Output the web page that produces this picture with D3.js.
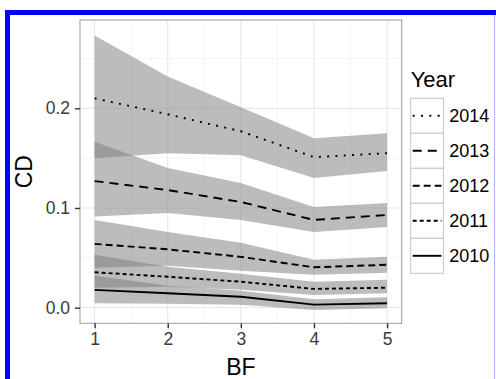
<!DOCTYPE html>
<html>
<head>
<meta charset="utf-8">
<script src="https://cdn.jsdelivr.net/npm/d3@7"></script>
<style>
  html, body { margin: 0; padding: 0; background: #fff; }
  svg { display: block; }
  text { font-family: "Liberation Sans", Arial, Helvetica, sans-serif; }
</style>
</head>
<body>
<svg id="chart" width="496" height="379"></svg>
<script>
// Break-frequency levels on the x axis
const bf = [1, 2, 3, 4, 5];

// Years, top-to-bottom in the legend
const years = ["2014", "2013", "2012", "2011", "2010"];

// Mean CD per BF level, with lower / upper confidence bounds
const mean2014 = [0.210, 0.194, 0.177, 0.151, 0.155];
const lo2014   = [0.150, 0.155, 0.153, 0.130, 0.137];
const hi2014   = [0.273, 0.232, 0.201, 0.170, 0.175];

const mean2013 = [0.127, 0.118, 0.106, 0.088, 0.093];
const lo2013   = [0.0915, 0.095, 0.088, 0.076, 0.081];
const hi2013   = [0.1665, 0.140, 0.125, 0.101, 0.105];

const mean2012 = [0.064, 0.0585, 0.051, 0.0405, 0.043];
const lo2012   = [0.040, 0.042, 0.037, 0.033, 0.035];
const hi2012   = [0.088, 0.076, 0.065, 0.048, 0.051];

const mean2011 = [0.0355, 0.031, 0.026, 0.0188, 0.020];
const lo2011   = [0.020, 0.021, 0.018, 0.0127, 0.0144];
const hi2011   = [0.053, 0.041, 0.034, 0.026, 0.028];

const mean2010 = [0.0178, 0.0144, 0.0110, 0.0030, 0.0044];
const lo2010   = [0.0044, 0.0040, 0.0030, -0.0023, -0.0006];
const hi2010   = [0.032, 0.022, 0.017, 0.0084, 0.0104];

// Tick values
const xTicks = [1, 2, 3, 4, 5];
const yTicks = [0.0, 0.1, 0.2];
const xMinor = [1.5, 2.5, 3.5, 4.5];
const yMinor = [0.05, 0.15, 0.25];

const seriesByYear = {
  "2014": { mean: mean2014, lo: lo2014, hi: hi2014 },
  "2013": { mean: mean2013, lo: lo2013, hi: hi2013 },
  "2012": { mean: mean2012, lo: lo2012, hi: hi2012 },
  "2011": { mean: mean2011, lo: lo2011, hi: hi2011 },
  "2010": { mean: mean2010, lo: lo2010, hi: hi2010 }
};

// Line type for each year
const dashes = {
  "2014": "2,6.3",
  "2013": "9,6",
  "2012": "7,4",
  "2011": "4,3",
  "2010": null
};

const svg = d3.select("#chart");

// Outer frame
svg.append("rect").attr("x", 5).attr("y", 10).attr("width", 491).attr("height", 5).attr("fill", "#0000ff");
svg.append("rect").attr("x", 5).attr("y", 10).attr("width", 5).attr("height", 369).attr("fill", "#0000ff");
svg.append("rect").attr("x", 494).attr("y", 15).attr("width", 1).attr("height", 364).attr("fill", "#b4b4f4");

// Panel geometry
const panel = { left: 80, right: 401.7, top: 20, bottom: 323.3 };

const x = d3.scaleLinear().domain([0.8, 5.2]).range([panel.left, panel.right]);
const y = d3.scaleLinear().domain([-0.0157, 0.2886]).range([panel.bottom, panel.top]);

const g = svg.append("g");

// Panel background
g.append("rect")
  .attr("x", panel.left).attr("y", panel.top)
  .attr("width", panel.right - panel.left).attr("height", panel.bottom - panel.top)
  .attr("fill", "#ffffff");

// Minor grid
g.selectAll(".xminor").data(xMinor).enter().append("line")
  .attr("x1", d => x(d)).attr("x2", d => x(d))
  .attr("y1", panel.top).attr("y2", panel.bottom)
  .attr("stroke", "#f4f4f4").attr("stroke-width", 1);
g.selectAll(".yminor").data(yMinor).enter().append("line")
  .attr("x1", panel.left).attr("x2", panel.right)
  .attr("y1", d => y(d)).attr("y2", d => y(d))
  .attr("stroke", "#f4f4f4").attr("stroke-width", 1);

// Major grid
g.selectAll(".xmajor").data(xTicks).enter().append("line")
  .attr("x1", d => x(d)).attr("x2", d => x(d))
  .attr("y1", panel.top).attr("y2", panel.bottom)
  .attr("stroke", "#e6e6e6").attr("stroke-width", 1);
g.selectAll(".ymajor").data(yTicks).enter().append("line")
  .attr("x1", panel.left).attr("x2", panel.right)
  .attr("y1", d => y(d)).attr("y2", d => y(d))
  .attr("stroke", "#e6e6e6").attr("stroke-width", 1);

// Confidence ribbons
const area = d3.area()
  .x(d => x(d.bf))
  .y0(d => y(d.lo))
  .y1(d => y(d.hi));

const line = d3.line()
  .x(d => x(d.bf))
  .y(d => y(d.mean));

const rows = yr => bf.map((b, i) => ({
  bf: b,
  mean: seriesByYear[yr].mean[i],
  lo: seriesByYear[yr].lo[i],
  hi: seriesByYear[yr].hi[i]
}));

years.forEach(yr => {
  g.append("path")
    .datum(rows(yr))
    .attr("d", area)
    .attr("fill", "#7a7a7a")
    .attr("fill-opacity", 0.5);
});

// Mean lines
years.forEach(yr => {
  const p = g.append("path")
    .datum(rows(yr))
    .attr("d", line)
    .attr("fill", "none")
    .attr("stroke", "#000")
    .attr("stroke-width", 1.9);
  if (dashes[yr]) p.attr("stroke-dasharray", dashes[yr]);
});

// Panel border
g.append("rect")
  .attr("x", panel.left).attr("y", panel.top)
  .attr("width", panel.right - panel.left).attr("height", panel.bottom - panel.top)
  .attr("fill", "none").attr("stroke", "#9a9a9a").attr("stroke-width", 1);

// Axes
const xAxis = d3.axisBottom(x).tickValues(xTicks).tickFormat(d3.format("d"))
  .tickSizeInner(5).tickSizeOuter(0).tickPadding(4);
const yAxis = d3.axisLeft(y).tickValues(yTicks).tickFormat(d3.format(".1f"))
  .tickSizeInner(5).tickSizeOuter(0).tickPadding(5);

const gx = svg.append("g").attr("transform", `translate(0,${panel.bottom})`).call(xAxis);
const gy = svg.append("g").attr("transform", `translate(${panel.left},0)`).call(yAxis);

[gx, gy].forEach(a => {
  a.select(".domain").remove();
  a.selectAll(".tick line").attr("stroke", "#333").attr("stroke-width", 1.4);
  a.selectAll(".tick text")
    .attr("fill", "#3a3a3a")
    .style("font-size", "17.5px")
    .style("font-family", "'Liberation Sans', Arial, sans-serif");
});

// Axis titles
svg.append("text")
  .attr("x", (panel.left + panel.right) / 2).attr("y", 375)
  .attr("text-anchor", "middle")
  .style("font-size", "23px")
  .attr("fill", "#000")
  .text("BF");

svg.append("text")
  .attr("transform", `translate(32,${(panel.top + panel.bottom) / 2}) rotate(-90)`)
  .attr("text-anchor", "middle")
  .style("font-size", "23px")
  .attr("fill", "#000")
  .text("CD");

// Legend
const legend = svg.append("g").attr("transform", "translate(410.7,0)");
legend.append("text")
  .attr("x", 0).attr("y", 87)
  .style("font-size", "22px")
  .attr("fill", "#000")
  .text("Year");

const keyW = 32.7, keyH = 35, keyTop = 98.3;
years.forEach((yr, i) => {
  const ky = keyTop + i * keyH;
  legend.append("rect")
    .attr("x", 0).attr("y", ky)
    .attr("width", keyW).attr("height", keyH)
    .attr("fill", "#fff").attr("stroke", "#c4c4c4").attr("stroke-width", 1);
  const l = legend.append("line")
    .attr("x1", 2).attr("x2", keyW - 2)
    .attr("y1", ky + keyH / 2).attr("y2", ky + keyH / 2)
    .attr("stroke", "#000").attr("stroke-width", 1.9);
  if (dashes[yr]) l.attr("stroke-dasharray", dashes[yr]);
  legend.append("text")
    .attr("x", 38.5).attr("y", ky + keyH / 2 + 6.5)
    .style("font-size", "18px")
    .attr("fill", "#000")
    .text(yr);
});
</script>
</body>
</html>
